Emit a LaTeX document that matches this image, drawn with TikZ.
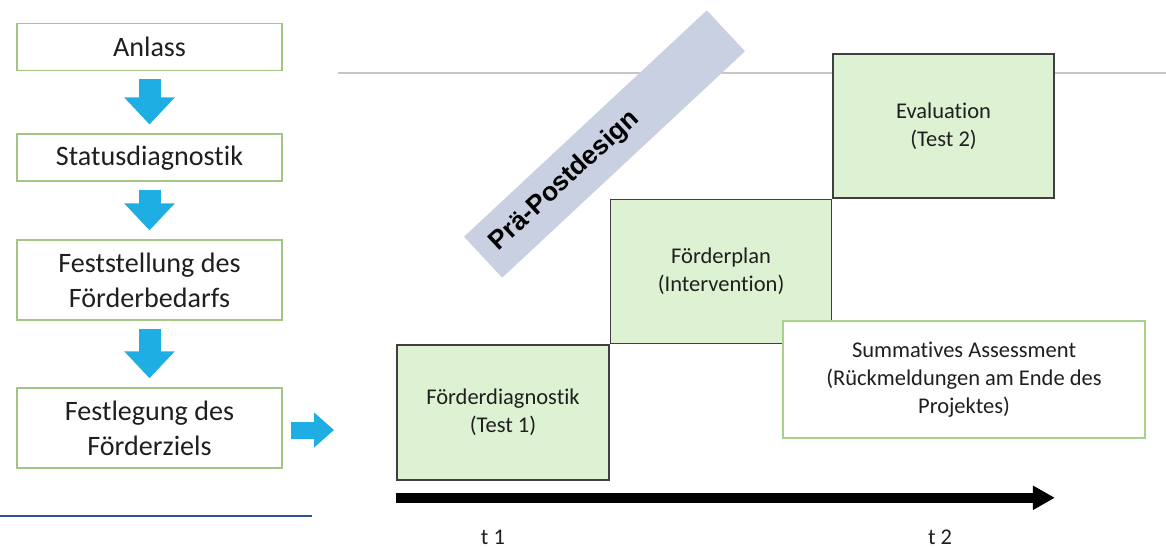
\documentclass[tikz,border=0pt]{standalone}
\usepackage{fontspec}
\setmainfont{Carlito}[Ligatures=NoCommon]
\newfontfamily\bannerfont{Liberation Sans}
\usetikzlibrary{arrows.meta,positioning}

\definecolor{flowblue}{HTML}{1FAEE4}
\definecolor{flowgreen}{HTML}{A3C585}
\definecolor{stagefill}{HTML}{DDF1D3}
\definecolor{stageline}{HTML}{3F3F3F}
\definecolor{summline}{HTML}{A9D18E}
\definecolor{bannerblue}{HTML}{C9D0E1}
\definecolor{rulegray}{HTML}{C6C6C6}
\definecolor{rulenavy}{HTML}{2F5597}

\begin{document}
\begin{tikzpicture}[
    x=0.02cm, y=-0.02cm,
    font=\fontsize{12.8}{16}\selectfont,
    text=black!88,
    flow/.style={draw=flowgreen, line width=1.1pt, align=center, inner sep=2pt,
      minimum width=5.3cm, minimum height=0.94cm, font=\fontsize{16}{19.5}\selectfont},
    flowarr/.style={flowblue, line width=0.44cm, -{Triangle[length=0.54cm, width=0.98cm]},
      shorten <=0.16cm, shorten >=0.18cm},
    stage/.style={draw=stageline, fill=stagefill, line width=0.9pt, align=center,
      minimum width=4.42cm, minimum height=2.88cm},
    summ/.style={draw=summline, fill=white, line width=1pt, align=center,
      minimum width=7.24cm, minimum height=2.34cm},
    banner/.style={fill=bannerblue, minimum width=6.64cm, minimum height=1.12cm,
      text width=6.04cm, inner xsep=0.3cm, align=left, text=black,
      font=\bannerfont\bfseries\fontsize{15}{18}\selectfont},
    tick/.style={inner sep=1pt}
  ]
    \useasboundingbox (0,0) rectangle (1166,547);

    % left: steps
    \node[flow] (anlass) at (149.5,47) {Anlass};
    \node[flow, below=1.24cm of anlass] (status) {Statusdiagnostik};
    \node[flow, below=1.14cm of status, minimum height=1.6cm] (bedarf) {Feststellung des\\Förderbedarfs};
    \node[flow, below=1.32cm of bedarf, minimum height=1.6cm] (ziel) {Festlegung des\\Förderziels};
    \draw[flowarr] (anlass) -- (status);
    \draw[flowarr] (status) -- (bedarf);
    \draw[flowarr] (bedarf) -- (ziel);
    \coordinate (cut) at (334,430);
    \draw[flowarr, line width=0.34cm, -{Triangle[length=0.4cm, width=0.68cm]}, shorten >=0pt]
      (ziel.east |- cut) -- (cut);
    \draw[rulenavy, line width=1.2pt] (0,516) -- (312,516);

    % right: design
    \draw[rulegray, line width=1.2pt] (338,73) -- (1166,73);
    \node[banner, rotate=43] (design) at (604.5,144) {Prä-Postdesign};

    \node[stage, minimum width=4.24cm, minimum height=2.7cm] (diag) at (503,412.5) {Förderdiagnostik\\(Test 1)};
    \node[stage, above right=0pt and 0pt of diag] (plan) {Förderplan\\(Intervention)};
    \node[stage, above right=0pt and 0pt of plan] (eval) {Evaluation\\(Test 2)};
    \node[summ] (summ) at (964,379.5) {Summatives Assessment\\(Rückmeldungen am Ende des\\Projektes)};

    \coordinate (tstart) at ([yshift=-0.34cm]diag.south west);
    \coordinate (tend) at (tstart -| eval.south east);
    \draw[line width=0.2cm, -{Triangle[length=0.44cm, width=0.46cm]}] (tstart) -- (tend);
    \node[tick] (tone) at (493,537) {t 1};
    \node[tick] (ttwo) at (940,537) {t 2};
  \end{tikzpicture}
\end{document}
